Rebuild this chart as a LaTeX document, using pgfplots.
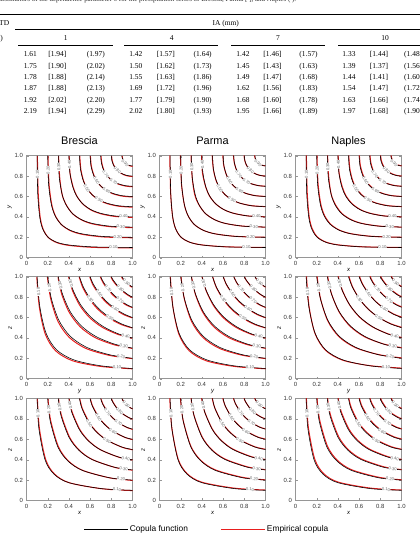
\documentclass[border=0pt]{standalone}
\usepackage{pgfplots}
\pgfplotsset{compat=1.18}
\usepackage{pgfplotstable}
\usepackage{fontspec}
\setmainfont{Liberation Serif}
\setsansfont{Liberation Sans}
\definecolor{empred}{RGB}{232,30,30}
\definecolor{framegray}{RGB}{150,150,150}
\definecolor{clabc}{RGB}{105,105,105}
\newcommand\tfont{\fontsize{7.5}{9}\selectfont}

% Row 1 (x,y): copula contours C(u,v)=0.1,...,0.9
\pgfplotstableread{
x1 y1 x2 y2 x3 y3 x4 y4 x5 y5 x6 y6 x7 y7 x8 y8 x9 y9
0.1 1 0.2 1 0.3 1 0.4 1 0.5 1 0.6 1 0.7 1 0.8 1 0.9 1
0.1059 0.6310 0.2082 0.7248 0.3092 0.7860 0.4093 0.8326 0.5087 0.8706 0.6077 0.9029 0.7063 0.9311 0.8045 0.9564 0.9024 0.9791
0.1249 0.3981 0.2336 0.5253 0.3369 0.6178 0.4369 0.6931 0.5346 0.7579 0.6303 0.8152 0.7245 0.8670 0.8174 0.9146 0.9092 0.9587
0.1529 0.2818 0.2691 0.4126 0.3746 0.5157 0.4736 0.6041 0.5682 0.6830 0.6593 0.7551 0.7476 0.8219 0.8336 0.8845 0.9177 0.9437
0.2022 0.2022 0.3271 0.3271 0.4335 0.4335 0.5293 0.5293 0.6180 0.6180 0.7014 0.7014 0.7806 0.7806 0.8565 0.8565 0.9295 0.9295
0.2818 0.1529 0.4126 0.2691 0.5157 0.3746 0.6041 0.4736 0.6830 0.5682 0.7551 0.6593 0.8219 0.7476 0.8845 0.8336 0.9437 0.9177
0.3981 0.1249 0.5253 0.2336 0.6178 0.3369 0.6931 0.4369 0.7579 0.5346 0.8152 0.6303 0.8670 0.7245 0.9146 0.8174 0.9587 0.9092
0.6310 0.1059 0.7248 0.2082 0.7860 0.3092 0.8326 0.4093 0.8706 0.5087 0.9029 0.6077 0.9311 0.7063 0.9564 0.8045 0.9791 0.9024
1 0.1 1 0.2 1 0.3 1 0.4 1 0.5 1 0.6 1 0.7 1 0.8 1 0.9
}\BlkA
\pgfplotstableread{
x1 y1 x2 y2 x3 y3 x4 y4 x5 y5 x6 y6 x7 y7 x8 y8 x9 y9
0.1 1 0.2 1 0.3 1 0.4 1 0.5 1 0.6 1 0.7 1 0.8 1 0.9 1
0.1080 0.6300 0.2100 0.7230 0.3110 0.7850 0.4080 0.8300 0.5100 0.8690 0.6090 0.9010 0.7080 0.9300 0.8060 0.9550 0.9030 0.9780
0.1270 0.3950 0.2360 0.5220 0.3350 0.6150 0.4390 0.6900 0.5360 0.7550 0.6330 0.8120 0.7260 0.8650 0.8190 0.9130 0.9100 0.9570
0.1560 0.2780 0.2720 0.4090 0.3770 0.5120 0.4760 0.6000 0.5710 0.6790 0.6620 0.7520 0.7500 0.8190 0.8350 0.8820 0.9190 0.9420
0.2050 0.1990 0.3300 0.3240 0.4360 0.4300 0.5320 0.5260 0.6210 0.6150 0.7040 0.6990 0.7830 0.7780 0.8580 0.8540 0.9310 0.9280
0.2850 0.1500 0.4150 0.2660 0.5190 0.3720 0.6070 0.4700 0.6860 0.5650 0.7580 0.6570 0.8240 0.7450 0.8860 0.8320 0.9450 0.9160
0.4010 0.1230 0.5280 0.2310 0.6200 0.3340 0.6960 0.4340 0.7600 0.5320 0.8170 0.6280 0.8690 0.7220 0.9160 0.8160 0.9600 0.9080
0.6330 0.1040 0.7270 0.2060 0.7880 0.3070 0.8340 0.4070 0.8720 0.5070 0.9040 0.6060 0.9320 0.7050 0.9570 0.8030 0.9800 0.9010
1 0.098 1 0.198 1 0.297 1 0.398 1 0.498 1 0.598 1 0.698 1 0.798 1 0.898
}\RedA
% Row 2 (y,z)
\pgfplotstableread{
x1 y1 x2 y2 x3 y3 x4 y4 x5 y5 x6 y6 x7 y7 x8 y8 x9 y9
0.1 1 0.2 1 0.3 1 0.4 1 0.5 1 0.6 1 0.7 1 0.8 1 0.9 1
0.1255 0.7079 0.2345 0.7855 0.3379 0.8348 0.4379 0.8716 0.5354 0.9013 0.6311 0.9262 0.7251 0.9479 0.8178 0.9671 0.9094 0.9843
0.1844 0.4467 0.3068 0.5693 0.4131 0.6561 0.5103 0.7256 0.6011 0.7846 0.6873 0.8363 0.7696 0.8826 0.8489 0.9249 0.9256 0.9638
0.2836 0.2836 0.4144 0.4144 0.5174 0.5174 0.6056 0.6056 0.6843 0.6843 0.7561 0.7561 0.8227 0.8227 0.8850 0.8850 0.9440 0.9440
0.4467 0.1844 0.5693 0.3068 0.6561 0.4131 0.7256 0.5103 0.7846 0.6011 0.8363 0.6873 0.8826 0.7696 0.9249 0.8489 0.9638 0.9256
0.7079 0.1255 0.7855 0.2345 0.8348 0.3379 0.8716 0.4379 0.9013 0.5354 0.9262 0.6311 0.9479 0.7251 0.9671 0.8178 0.9843 0.9094
1 0.1 1 0.2 1 0.3 1 0.4 1 0.5 1 0.6 1 0.7 1 0.8 1 0.9
}\BlkB
\pgfplotstableread{
x1 y1 x2 y2 x3 y3 x4 y4 x5 y5 x6 y6 x7 y7 x8 y8 x9 y9
0.1 1 0.2 1 0.3 1 0.4 1 0.5 1 0.6 1 0.7 1 0.8 1 0.9 1
0.1240 0.7050 0.2320 0.7830 0.3350 0.8320 0.4360 0.8690 0.5330 0.8990 0.6290 0.9240 0.7240 0.9460 0.8170 0.9660 0.9090 0.9830
0.1800 0.4400 0.3010 0.5620 0.4080 0.6500 0.5060 0.7210 0.5980 0.7810 0.6850 0.8340 0.7680 0.8810 0.8480 0.9240 0.9250 0.9630
0.2780 0.2760 0.4080 0.4060 0.5110 0.5100 0.6000 0.6000 0.6800 0.6800 0.7530 0.7530 0.8210 0.8200 0.8840 0.8840 0.9430 0.9430
0.4400 0.1780 0.5630 0.3000 0.6500 0.4060 0.7210 0.5050 0.7810 0.5970 0.8340 0.6850 0.8810 0.7680 0.9240 0.8480 0.9630 0.9250
0.7050 0.1230 0.7830 0.2320 0.8320 0.3350 0.8690 0.4360 0.8990 0.5330 0.9240 0.6290 0.9460 0.7240 0.9660 0.8170 0.9830 0.9090
1 0.1 1 0.2 1 0.3 1 0.4 1 0.5 1 0.6 1 0.7 1 0.8 1 0.9
}\RedB
% Row 3 (x,z)
\pgfplotstableread{
x1 y1 x2 y2 x3 y3 x4 y4 x5 y5 x6 y6 x7 y7 x8 y8 x9 y9
0.1 1 0.2 1 0.3 1 0.4 1 0.5 1 0.6 1 0.7 1 0.8 1 0.9 1
0.1164 0.7079 0.2224 0.7855 0.3248 0.8348 0.4249 0.8716 0.5234 0.9013 0.6206 0.9262 0.7167 0.9479 0.8119 0.9671 0.9063 0.9843
0.1751 0.3981 0.2958 0.5253 0.4021 0.6178 0.4998 0.6931 0.5918 0.7579 0.6794 0.8152 0.7634 0.8670 0.8446 0.9146 0.9234 0.9587
0.2590 0.2590 0.3890 0.3890 0.4934 0.4934 0.5842 0.5842 0.6659 0.6659 0.7410 0.7410 0.8112 0.8112 0.8773 0.8773 0.9401 0.9401
0.3981 0.1751 0.5253 0.2958 0.6178 0.4021 0.6931 0.4998 0.7579 0.5918 0.8152 0.6794 0.8670 0.7634 0.9146 0.8446 0.9587 0.9234
0.7079 0.1164 0.7855 0.2224 0.8348 0.3248 0.8716 0.4249 0.9013 0.5234 0.9262 0.6206 0.9479 0.7167 0.9671 0.8119 0.9843 0.9063
1 0.1 1 0.2 1 0.3 1 0.4 1 0.5 1 0.6 1 0.7 1 0.8 1 0.9
}\BlkC
\pgfplotstableread{
x1 y1 x2 y2 x3 y3 x4 y4 x5 y5 x6 y6 x7 y7 x8 y8 x9 y9
0.1 1 0.2 1 0.3 1 0.4 1 0.5 1 0.6 1 0.7 1 0.8 1 0.9 1
0.1190 0.7100 0.2250 0.7880 0.3270 0.8370 0.4270 0.8730 0.5250 0.9030 0.6220 0.9270 0.7180 0.9490 0.8130 0.9680 0.9070 0.9850
0.1790 0.4020 0.2990 0.5290 0.4050 0.6210 0.5020 0.6960 0.5940 0.7600 0.6810 0.8170 0.7650 0.8680 0.8460 0.9150 0.9240 0.9590
0.2630 0.2610 0.3920 0.3910 0.4960 0.4950 0.5860 0.5860 0.6680 0.6670 0.7420 0.7420 0.8120 0.8120 0.8780 0.8780 0.9400 0.9400
0.4010 0.1770 0.5280 0.2980 0.6200 0.4040 0.6950 0.5010 0.7590 0.5930 0.8160 0.6800 0.8680 0.7640 0.9150 0.8450 0.9590 0.9240
0.7100 0.1180 0.7870 0.2240 0.8360 0.3260 0.8720 0.4260 0.9020 0.5240 0.9270 0.6210 0.9480 0.7170 0.9680 0.8120 0.9850 0.9070
1 0.1 1 0.2 1 0.3 1 0.4 1 0.5 1 0.6 1 0.7 1 0.8 1 0.9
}\RedC

\pgfplotsset{
  cop/.style={
    scale only axis, width=106bp, height=102bp, anchor=south west,
    xmin=0, xmax=1, ymin=0, ymax=1,
    xtick={0,0.2,0.4,0.6,0.8,1}, ytick={0,0.2,0.4,0.6,0.8,1},
    xticklabels={0,0.2,0.4,0.6,0.8,1.0}, yticklabels={0,0.2,0.4,0.6,0.8,1.0},
    tick label style={font=\sffamily\fontsize{6}{6}\selectfont, text=black!80},
    axis line style={framegray, line width=0.5bp},
    tick style={framegray, line width=0.4bp},
    major tick length=2.2bp, tick align=inside,
    label style={font=\sffamily\itshape\fontsize{6}{6}\selectfont},
    xlabel style={yshift=4bp}, ylabel style={yshift=-4bp},
    title style={font=\sffamily\fontsize{11}{12}\selectfont, anchor=base, at={(0.5,1)}, yshift=5.5bp, inner sep=0pt},
  },
  blkline/.style={black, line width=0.55bp, smooth, forget plot},
  empline/.style={empred, line width=1.0bp, smooth, forget plot},
}
\tikzset{clab/.style={font=\sffamily\fontsize{4.2}{4.2}\selectfont, text=clabc, fill=white, inner sep=0.15bp},
  tcell/.style={anchor=base, font=\tfont, inner sep=0pt}}

\newcommand\labA{%
 \node[clab,rotate=91] at (axis cs:0.103,0.82){0.10};
 \node[clab,rotate=91] at (axis cs:0.204,0.86){0.20};
 \node[clab,rotate=92] at (axis cs:0.305,0.89){0.30};
 \node[clab,rotate=92] at (axis cs:0.405,0.915){0.40};
 \node[clab,rotate=-59] at (axis cs:0.5682,0.6830){0.50};
 \node[clab,rotate=-59] at (axis cs:0.6593,0.7551){0.60};
 \node[clab,rotate=-55] at (axis cs:0.7476,0.8219){0.70};
 \node[clab,rotate=-45] at (axis cs:0.8565,0.8565){0.80};
 \node[clab,rotate=-45] at (axis cs:0.9295,0.9295){0.90};
 \node[clab,rotate=-1] at (axis cs:0.82,0.103){0.10};
 \node[clab,rotate=-1] at (axis cs:0.86,0.204){0.20};
 \node[clab,rotate=-2] at (axis cs:0.89,0.305){0.30};
 \node[clab,rotate=-2] at (axis cs:0.915,0.405){0.40};
 \node[clab,rotate=-31] at (axis cs:0.6830,0.5682){0.50};
 \node[clab,rotate=-31] at (axis cs:0.7551,0.6593){0.60};
 \node[clab,rotate=-35] at (axis cs:0.8219,0.7476){0.70};
}
\newcommand\labB{%
 \node[clab,rotate=95] at (axis cs:0.113,0.854){0.10};
 \node[clab,rotate=99] at (axis cs:0.217,0.893){0.20};
 \node[clab,rotate=103] at (axis cs:0.319,0.917){0.30};
 \node[clab,rotate=106] at (axis cs:0.419,0.936){0.40};
 \node[clab,rotate=-55] at (axis cs:0.6011,0.7846){0.50};
 \node[clab,rotate=-55] at (axis cs:0.6873,0.8363){0.60};
 \node[clab,rotate=-50] at (axis cs:0.7696,0.8826){0.70};
 \node[clab,rotate=-45] at (axis cs:0.8850,0.8850){0.80};
 \node[clab,rotate=-45] at (axis cs:0.9440,0.9440){0.90};
 \node[clab,rotate=-5] at (axis cs:0.854,0.113){0.10};
 \node[clab,rotate=-9] at (axis cs:0.893,0.217){0.20};
 \node[clab,rotate=-13] at (axis cs:0.917,0.319){0.30};
 \node[clab,rotate=-16] at (axis cs:0.936,0.419){0.40};
 \node[clab,rotate=-35] at (axis cs:0.7846,0.6011){0.50};
 \node[clab,rotate=-35] at (axis cs:0.8363,0.6873){0.60};
 \node[clab,rotate=-40] at (axis cs:0.8826,0.7696){0.70};
}
\newcommand\labC{%
 \node[clab,rotate=93] at (axis cs:0.108,0.854){0.10};
 \node[clab,rotate=96] at (axis cs:0.211,0.893){0.20};
 \node[clab,rotate=99] at (axis cs:0.312,0.917){0.30};
 \node[clab,rotate=101] at (axis cs:0.412,0.936){0.40};
 \node[clab,rotate=-58] at (axis cs:0.5918,0.7579){0.50};
 \node[clab,rotate=-58] at (axis cs:0.6794,0.8152){0.60};
 \node[clab,rotate=-52] at (axis cs:0.7634,0.8670){0.70};
 \node[clab,rotate=-45] at (axis cs:0.8773,0.8773){0.80};
 \node[clab,rotate=-45] at (axis cs:0.9401,0.9401){0.90};
 \node[clab,rotate=-3] at (axis cs:0.854,0.108){0.10};
 \node[clab,rotate=-6] at (axis cs:0.893,0.211){0.20};
 \node[clab,rotate=-9] at (axis cs:0.917,0.312){0.30};
 \node[clab,rotate=-11] at (axis cs:0.936,0.412){0.40};
 \node[clab,rotate=-32] at (axis cs:0.7579,0.5918){0.50};
 \node[clab,rotate=-32] at (axis cs:0.8152,0.6794){0.60};
 \node[clab,rotate=-38] at (axis cs:0.8670,0.7634){0.70};
}
\newcommand\trowA[4]{%
  \node[tcell] at (30.3bp,-#1bp) {#2};
  \node[tcell] at (57.3bp,-#1bp) {[#3]};
  \node[tcell] at (95.8bp,-#1bp) {(#4)};}
\newcommand\trowB[4]{%
  \node[tcell] at (135.8bp,-#1bp) {#2};
  \node[tcell] at (165.8bp,-#1bp) {[#3]};
  \node[tcell] at (202.7bp,-#1bp) {(#4)};}
\newcommand\trowC[4]{%
  \node[tcell] at (243bp,-#1bp) {#2};
  \node[tcell] at (272.5bp,-#1bp) {[#3]};
  \node[tcell] at (308.5bp,-#1bp) {(#4)};}
\newcommand\trowD[4]{%
  \node[tcell] at (349bp,-#1bp) {#2};
  \node[tcell] at (379bp,-#1bp) {[#3]};
  \node[tcell, anchor=base west] at (404bp,-#1bp) {(#4)};}
% one panel: #1 black table, #2 red table, #3 red shift x, #4 red shift y
\newcommand\panel[4]{%
  \pgfplotsinvokeforeach{1,...,9}{
    \addplot[empline, xshift=#3, yshift=#4] table[x=x##1,y=y##1]{#2};
    \addplot[blkline] table[x=x##1,y=y##1]{#1};
  }}

\begin{document}
\begin{tikzpicture}
\useasboundingbox (0,0) rectangle (420bp,-539bp);
\clip (0,0) rectangle (420bp,-539bp);

% ---- table (top, cropped) ----
\node[anchor=base west, font=\fontsize{7}{8}\selectfont, text=black!85, inner sep=0pt] at (0bp,-1.5bp)
  {Estimators of the dependence parameter θ for the precipitation series of Brescia, Parma [ ], and Naples ( ).};
\draw[line width=0.6bp] (0bp,-14bp) -- (420bp,-14bp);
\node[tcell, anchor=base west] at (-1bp,-25bp) {TD};
\node[tcell] at (225.7bp,-25bp) {IA (mm)};
\draw[line width=0.45bp] (15bp,-29.5bp) -- (420bp,-29.5bp);
\node[tcell, anchor=base east] at (3bp,-40bp) {(h)};
\node[tcell] at (65.7bp,-40bp) {1};
\node[tcell] at (171.7bp,-40bp) {4};
\node[tcell] at (278bp,-40bp) {7};
\node[tcell] at (385bp,-40bp) {10};
\draw[line width=0.45bp] (18bp,-45.5bp) -- (113bp,-45.5bp);
\draw[line width=0.45bp] (124bp,-45.5bp) -- (218bp,-45.5bp);
\draw[line width=0.45bp] (231bp,-45.5bp) -- (325bp,-45.5bp);
\draw[line width=0.45bp] (338bp,-45.5bp) -- (420bp,-45.5bp);
\trowA{56.7}{1.61}{1.94}{1.97}\trowB{56.7}{1.42}{1.57}{1.64}\trowC{56.7}{1.42}{1.46}{1.57}\trowD{56.7}{1.33}{1.44}{1.48}
\trowA{68.0}{1.75}{1.90}{2.02}\trowB{68.0}{1.50}{1.62}{1.73}\trowC{68.0}{1.45}{1.43}{1.63}\trowD{68.0}{1.39}{1.37}{1.56}
\trowA{79.4}{1.78}{1.88}{2.14}\trowB{79.4}{1.55}{1.63}{1.86}\trowC{79.4}{1.49}{1.47}{1.68}\trowD{79.4}{1.44}{1.41}{1.60}
\trowA{90.8}{1.87}{1.88}{2.13}\trowB{90.8}{1.69}{1.72}{1.96}\trowC{90.8}{1.62}{1.56}{1.83}\trowD{90.8}{1.54}{1.47}{1.72}
\trowA{102.2}{1.92}{2.02}{2.20}\trowB{102.2}{1.77}{1.79}{1.90}\trowC{102.2}{1.68}{1.60}{1.78}\trowD{102.2}{1.63}{1.66}{1.74}
\trowA{113.6}{2.19}{1.94}{2.29}\trowB{113.6}{2.02}{1.80}{1.93}\trowC{113.6}{1.95}{1.66}{1.89}\trowD{113.6}{1.97}{1.68}{1.90}

% ---- row 1 ----
\begin{axis}[cop, at={(26.5bp,-257.7bp)}, title={Brescia}, xlabel={x}, ylabel={y}]
\panel{\BlkA}{\RedA}{0.3bp}{-0.3bp}
\labA
\end{axis}
\begin{axis}[cop, at={(159.5bp,-257.7bp)}, title={Parma}, xlabel={x}, ylabel={y}]
\panel{\BlkA}{\RedA}{-0.3bp}{0.3bp}
\labA
\end{axis}
\begin{axis}[cop, at={(295.5bp,-257.7bp)}, title={Naples}, xlabel={x}, ylabel={y}]
\panel{\BlkA}{\RedA}{0.3bp}{0.3bp}
\labA
\end{axis}

% ---- row 2 ----
\begin{axis}[cop, at={(26.5bp,-378.7bp)}, xlabel={y}, ylabel={z}]
\panel{\BlkB}{\RedB}{-0.3bp}{-0.3bp}
\labB
\end{axis}
\begin{axis}[cop, at={(159.5bp,-378.7bp)}, xlabel={y}, ylabel={z}]
\panel{\BlkB}{\RedB}{0.3bp}{-0.3bp}
\labB
\end{axis}
\begin{axis}[cop, at={(295.5bp,-378.7bp)}, xlabel={y}, ylabel={z}]
\panel{\BlkB}{\RedB}{0.4bp}{0.4bp}
\labB
\end{axis}

% ---- row 3 ----
\begin{axis}[cop, at={(26.5bp,-500.5bp)}, xlabel={x}, ylabel={z}]
\panel{\BlkC}{\RedC}{0.3bp}{-0.3bp}
\labC
\end{axis}
\begin{axis}[cop, at={(159.5bp,-500.5bp)}, xlabel={x}, ylabel={z},
  legend columns=2,
  legend style={at={(-0.717,-0.284)}, anchor=west, draw=none, fill=none, inner sep=0pt,
    font=\sffamily\fontsize{8.4}{9}\selectfont, nodes={inner sep=1.5bp},
    /tikz/every even column/.append style={column sep=31bp}},
  legend cell align=left]
\panel{\BlkC}{\RedC}{-0.3bp}{0.3bp}
\labC
\addlegendimage{legend image code/.code={\draw[black, line width=0.6bp] (0bp,0bp) -- (44bp,0bp);}}
\addlegendentry{Copula function}
\addlegendimage{legend image code/.code={\draw[empred, line width=1.0bp] (0bp,0bp) -- (44bp,0bp);}}
\addlegendentry{Empirical copula}
\end{axis}
\begin{axis}[cop, at={(295.5bp,-500.5bp)}, xlabel={x}, ylabel={z}]
\panel{\BlkC}{\RedC}{0.3bp}{0.3bp}
\labC
\end{axis}
\end{tikzpicture}
\end{document}
